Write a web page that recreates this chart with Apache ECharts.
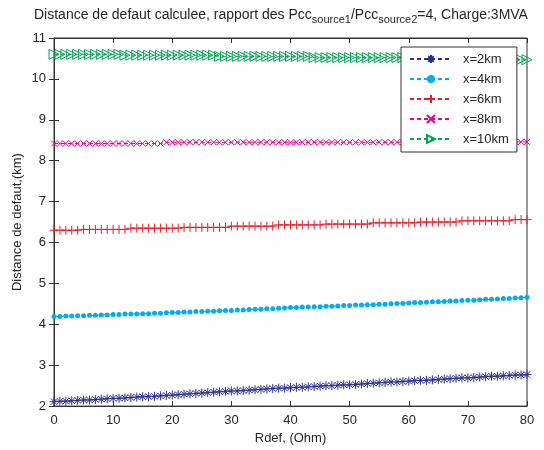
<!DOCTYPE html>
<html><head><meta charset="utf-8">
<script src="https://cdn.jsdelivr.net/npm/echarts@6/dist/echarts.min.js"></script>
<style>html,body{margin:0;padding:0;background:#fff}#c{width:544px;height:450px}</style>
</head><body><div id="c"></div>
<script>
// Rdef values (Ohm)
const rdef = [];
for (let i = 0; i <= 80; i++) rdef.push(i);

const seriesNames = ['x=2km', 'x=4km', 'x=6km', 'x=8km', 'x=10km'];

const d2km = [2.11,2.12,2.12,2.13,2.14,2.15,2.15,2.16,2.17,2.18,
  2.19,2.19,2.20,2.21,2.22,2.23,2.23,2.24,2.25,2.26,
  2.27,2.28,2.29,2.30,2.31,2.32,2.33,2.34,2.35,2.36,
  2.37,2.37,2.38,2.39,2.40,2.41,2.42,2.43,2.44,2.44,
  2.45,2.46,2.46,2.47,2.48,2.49,2.50,2.50,2.51,2.52,
  2.52,2.53,2.54,2.55,2.56,2.57,2.58,2.59,2.59,2.60,
  2.61,2.62,2.63,2.63,2.64,2.65,2.66,2.67,2.68,2.69,
  2.69,2.70,2.71,2.72,2.73,2.73,2.74,2.75,2.76,2.76,
  2.77];

const d4km = [4.19,4.19,4.20,4.20,4.21,4.21,4.22,4.22,4.23,4.23,
  4.24,4.24,4.25,4.25,4.25,4.26,4.26,4.27,4.27,4.28,
  4.29,4.29,4.30,4.30,4.31,4.31,4.32,4.32,4.33,4.34,
  4.34,4.35,4.35,4.36,4.37,4.37,4.38,4.38,4.39,4.40,
  4.41,4.41,4.42,4.42,4.43,4.43,4.44,4.44,4.45,4.46,
  4.46,4.47,4.47,4.48,4.48,4.49,4.49,4.50,4.51,4.51,
  4.52,4.53,4.53,4.54,4.55,4.55,4.56,4.57,4.57,4.58,
  4.59,4.59,4.60,4.61,4.61,4.62,4.63,4.63,4.64,4.65,
  4.66];

const d6km = [6.30,6.30,6.30,6.30,6.30,6.32,6.32,6.32,6.32,6.32,
  6.32,6.32,6.32,6.35,6.35,6.35,6.35,6.35,6.35,6.35,
  6.35,6.35,6.37,6.37,6.37,6.37,6.37,6.37,6.37,6.37,
  6.40,6.40,6.40,6.40,6.40,6.40,6.40,6.40,6.43,6.43,
  6.43,6.43,6.43,6.43,6.43,6.43,6.45,6.45,6.45,6.45,
  6.45,6.45,6.45,6.45,6.48,6.48,6.48,6.48,6.48,6.48,
  6.48,6.48,6.50,6.50,6.50,6.50,6.50,6.50,6.50,6.53,
  6.53,6.53,6.53,6.53,6.53,6.53,6.53,6.53,6.56,6.56,
  6.56];

const d8km = [8.42,8.42,8.42,8.42,8.42,8.42,8.42,8.42,8.42,8.42,
  8.42,8.42,8.42,8.42,8.42,8.42,8.42,8.42,8.42,8.45,
  8.45,8.45,8.45,8.45,8.45,8.45,8.45,8.45,8.45,8.45,
  8.45,8.45,8.45,8.45,8.45,8.45,8.45,8.45,8.45,8.45,
  8.45,8.45,8.45,8.45,8.45,8.45,8.45,8.45,8.45,8.45,
  8.45,8.45,8.45,8.45,8.45,8.45,8.45,8.45,8.45,8.45,
  8.45,8.45,8.45,8.45,8.45,8.45,8.45,8.45,8.45,8.46,
  8.46,8.46,8.46,8.46,8.46,8.46,8.46,8.46,8.46,8.46,
  8.46];

const d10km = [10.60,10.60,10.60,10.60,10.60,10.60,10.60,10.60,10.60,10.60,
  10.60,10.60,10.58,10.58,10.58,10.58,10.58,10.58,10.58,10.58,
  10.58,10.58,10.58,10.58,10.58,10.58,10.58,10.58,10.55,10.55,
  10.55,10.55,10.55,10.55,10.55,10.55,10.55,10.55,10.55,10.55,
  10.55,10.55,10.55,10.55,10.52,10.52,10.52,10.52,10.52,10.52,
  10.52,10.52,10.52,10.52,10.52,10.52,10.52,10.52,10.52,10.52,
  10.50,10.50,10.50,10.50,10.50,10.50,10.50,10.50,10.50,10.50,
  10.50,10.50,10.47,10.47,10.47,10.47,10.47,10.47,10.47,10.47,
  10.47];

const xTicks = [0,10,20,30,40,50,60,70,80];
const yTicks = [2,3,4,5,6,7,8,9,10,11];

const colors = ['#2e3192', '#00aeef', '#ed1c24', '#ec008c', '#00a651'];
const allData = [d2km, d4km, d6km, d8km, d10km];

const FONT = 'Liberation Sans, Arial, Helvetica, sans-serif';
const TXT = '#262626';

const starPath = 'path://M5,0 L5,10 M0,5 L10,5 M1.5,1.5 L8.5,8.5 M1.5,8.5 L8.5,1.5';
const plusPath = 'path://M5,0 L5,10 M0,5 L10,5';
const crossPath = 'path://M0,0 L10,10 M0,10 L10,0';

const symbols = [starPath, 'circle', plusPath, crossPath, 'triangle'];
const symSizes = [9, 5, 9, 6, 10];

const series = seriesNames.map((name, k) => {
  const hollow = k !== 1;
  return {
    name: name,
    type: 'line',
    data: rdef.map((x, i) => [x, allData[k][i]]),
    symbol: symbols[k],
    symbolSize: symSizes[k],
    symbolRotate: k === 4 ? -90 : 0,
    showAllSymbol: true,
    animation: false,
    lineStyle: { color: colors[k], width: 1, type: [4, 3] },
    itemStyle: hollow
      ? { color: 'rgba(0,0,0,0)', borderColor: colors[k], borderWidth: 1 }
      : { color: colors[k], borderColor: colors[k], borderWidth: 0 },
    emphasis: { disabled: true }
  };
});

const chart = echarts.init(document.getElementById('c'), null, { renderer: 'canvas' });
chart.setOption({
  backgroundColor: '#fff',
  animation: false,
  title: {
    text: 'Distance de defaut calculee, rapport des Pcc{sub|source1}/Pcc{sub|source2}=4, Charge:3MVA',
    left: 29, top: 0,
    textStyle: {
      fontFamily: FONT, fontSize: 14, fontWeight: 'normal', color: TXT,
      rich: { sub: { fontFamily: FONT, fontSize: 11, color: TXT, padding: [9, 0, 0, 0] } }
    }
  },
  legend: {
    orient: 'vertical',
    left: 401, top: 47,
    width: 114,
    backgroundColor: '#fff',
    borderColor: '#333', borderWidth: 1, borderRadius: 0,
    padding: [5, 8, 6, 8],
    itemWidth: 42, itemHeight: 10, itemGap: 6,
    textStyle: { fontFamily: FONT, fontSize: 13, color: TXT, padding: [0, 0, 0, 6], lineHeight: 14 },
    data: seriesNames
  },
  grid: { left: 54, top: 38, right: 17, bottom: 41, show: true, borderColor: '#333', borderWidth: 1, backgroundColor: 'rgba(0,0,0,0)' },
  xAxis: [{
    type: 'value', min: 0, max: 80, interval: 10,
    name: 'Rdef, (Ohm)', nameLocation: 'middle', nameGap: 23,
    nameTextStyle: { fontFamily: FONT, fontSize: 13, color: TXT },
    axisLine: { show: true, lineStyle: { color: '#333', width: 1 } },
    axisTick: { show: true, inside: true, length: 5, lineStyle: { color: '#333' } },
    axisLabel: { fontFamily: FONT, fontSize: 13, color: TXT, margin: 8 },
    splitLine: { show: false }
  }, {
    type: 'value', min: 0, max: 80, interval: 10, position: 'top',
    axisLine: { show: true, lineStyle: { color: '#333', width: 1 } },
    axisTick: { show: true, inside: true, length: 5, lineStyle: { color: '#333' } },
    axisLabel: { show: false }, splitLine: { show: false }
  }],
  yAxis: [{
    type: 'value', min: 2, max: 11, interval: 1,
    name: 'Distance de defaut,(km)', nameLocation: 'middle', nameGap: 30, nameMoveOverlap: false,
    nameTextStyle: { fontFamily: FONT, fontSize: 13, color: TXT },
    axisLine: { show: true, lineStyle: { color: '#333', width: 1 } },
    axisTick: { show: true, inside: true, length: 5, lineStyle: { color: '#333' } },
    axisLabel: { fontFamily: FONT, fontSize: 13, color: TXT, margin: 8 },
    splitLine: { show: false }
  }, {
    type: 'value', min: 2, max: 11, interval: 1, position: 'right',
    axisLine: { show: true, lineStyle: { color: '#333', width: 1 } },
    axisTick: { show: true, inside: true, length: 5, lineStyle: { color: '#333' } },
    axisLabel: { show: false }, splitLine: { show: false }
  }],
  series: series
});
</script>
</body></html>
